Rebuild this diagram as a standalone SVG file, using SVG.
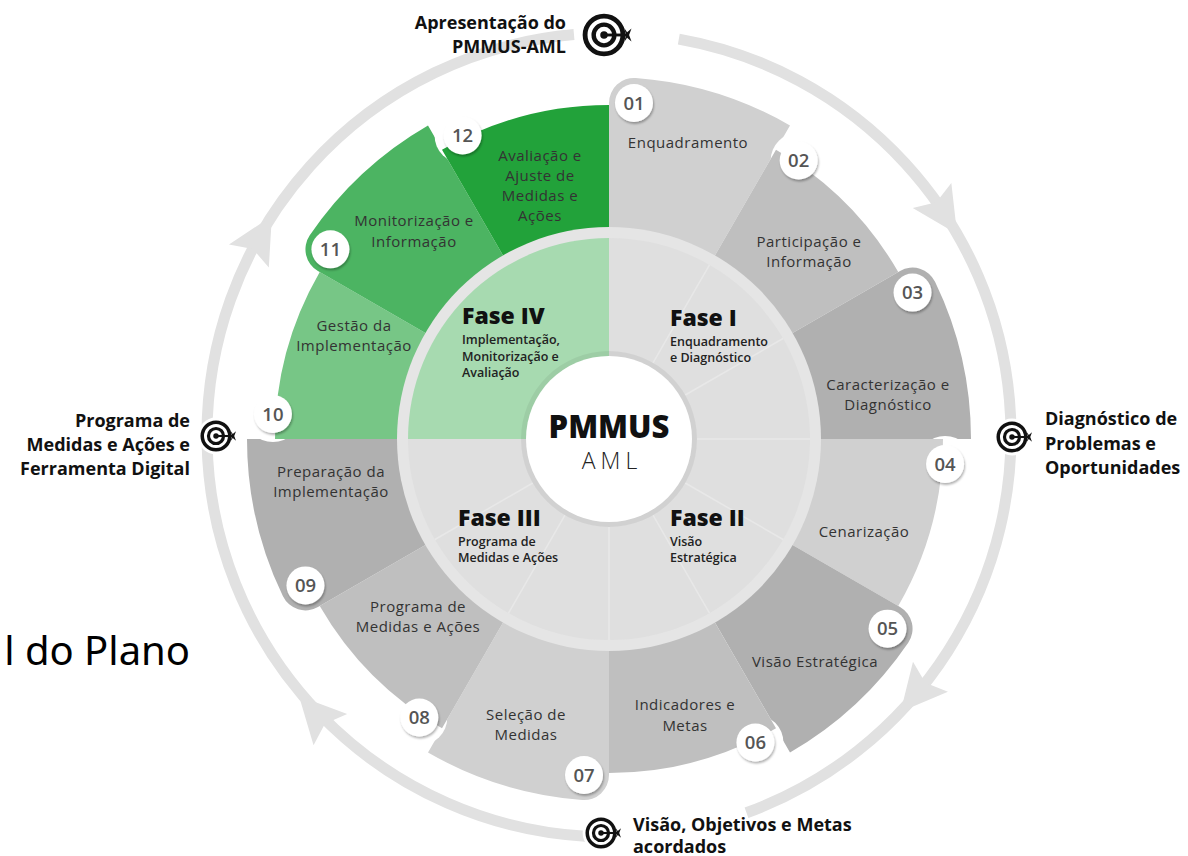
<svg xmlns="http://www.w3.org/2000/svg" width="1188" height="856" viewBox="0 0 1188 856">
<defs>
<style>
.lbl{font-family:'Open Sans','Liberation Sans',sans-serif;font-size:15px;letter-spacing:0.5px;fill:#333;text-anchor:middle}
.num{font-family:'Open Sans','Liberation Sans',sans-serif;font-size:18.5px;font-weight:600;fill:#555;text-anchor:middle}
.badge{fill:#fff;filter:url(#sh)}
.halo{fill:#fff}
.ph{font-family:'Open Sans','Liberation Sans',sans-serif;font-size:23px;font-weight:800;fill:#111}
.phs{font-family:'Open Sans','Liberation Sans',sans-serif;font-size:12.5px;font-weight:600;fill:#222}
.out{font-family:'Open Sans','Liberation Sans',sans-serif;font-size:18px;font-weight:700;fill:#111}
.ring{fill:none;stroke:#e1e1e1;stroke-width:11}
.arw{fill:#e1e1e1}
.c1{fill:#d0d0d0}.c2{fill:#bfbfbf}.c3{fill:#b0b0b0}
.g1{fill:#77c686}.g2{fill:#4cb462}.g3{fill:#22a23a}
.div{stroke:#e8e8e8;stroke-width:1.5}
.pg{fill:#dfdfdf}
</style>
<filter id="sh" x="-30%" y="-30%" width="160%" height="160%"><feDropShadow dx="1" dy="2" stdDeviation="1" flood-color="#000" flood-opacity="0.3"/></filter>
<g id="tgt">
<circle r="1.15" fill="#fff"/>
<circle r="0.86" fill="none" stroke="#111" stroke-width="0.22"/>
<circle r="0.47" fill="none" stroke="#111" stroke-width="0.2"/>
<circle r="0.17" fill="#111"/>
<line x1="0" y1="0" x2="1.05" y2="0" stroke="#111" stroke-width="0.13"/>
<polygon points="0.92,-0.32 1.05,-0.12 1.25,-0.3 1.14,0 1.25,0.3 1.05,0.12 0.92,0.32 1.0,0" fill="#111"/>
</g>
<path id="ah" d="M0,0 L-46,-23 L-38,0 L-46,23 Z"/>
</defs>
<rect width="1188" height="856" fill="#fff"/>

<text x="190" y="665" text-anchor="end" font-family="'Noto Sans','Open Sans',sans-serif" font-size="40" fill="#000">l do Plano</text>

<g id="connectors">
<path class="ring" d="M678.81,39.11 A402,402 0 0 1 746.49,812.76"/>
<path class="ring" d="M587.96,836.45 A402,402 0 0 1 573.96,34.53"/>
<use href="#ah" class="arw" transform="translate(957.1,234) rotate(57)"/>
<use href="#ah" class="arw" transform="translate(900.6,711.7) rotate(130.5)"/>
<use href="#ah" class="arw" transform="translate(299,696) rotate(227)"/>
<use href="#ah" class="arw" transform="translate(271.9,216.1) rotate(300)"/>
</g>

<g id="seg01">
<path class="c1" d="M609,234 L609,102.93 A25,25 0 0 1 635.83,78 A362,362 0 0 1 790,125.5 L711.5,261.46 A205,205 0 0 0 609,234 Z"/>
<circle class="badge" cx="633.97" cy="102.93" r="19"/>
<text class="num" x="633.97" y="109.5">01</text>
<text class="lbl" x="688" y="148">Enquadramento</text>
</g>
<g id="seg02">
<circle class="halo" cx="798.67" cy="160.44" r="28"/>
<path class="c2" d="M711.5,261.46 L776,149.75 A334,334 0 0 1 898.25,272 L786.54,336.5 A205,205 0 0 0 711.5,261.46 Z"/>
<circle class="badge" cx="798.67" cy="160.44" r="19"/>
<text class="num" x="798.67" y="167">02</text>
<text class="lbl" x="809" y="247">Participação e</text>
<text class="lbl" x="809" y="267">Informação</text>
</g>
<g id="seg03">
<path class="c3" d="M786.54,336.5 L900.05,270.96 A25,25 0 0 1 935.05,281.73 A362,362 0 0 1 971,439 L814,439 A205,205 0 0 0 786.54,336.5 Z"/>
<circle class="badge" cx="912.54" cy="292.59" r="19"/>
<text class="num" x="912.54" y="299.2">03</text>
<text class="lbl" x="888" y="390">Caracterização e</text>
<text class="lbl" x="888" y="410">Diagnóstico</text>
</g>
<g id="seg04">
<circle class="halo" cx="945.07" cy="463.97" r="28"/>
<path class="c1" d="M814,439 L943,439 A334,334 0 0 1 898.25,606 L786.54,541.5 A205,205 0 0 0 814,439 Z"/>
<circle class="badge" cx="945.07" cy="463.97" r="19"/>
<text class="num" x="945.07" y="470.5">04</text>
<text class="lbl" x="864" y="537">Cenarização</text>
</g>
<g id="seg05">
<path class="c3" d="M786.54,541.5 L900.05,607.04 A25,25 0 0 1 908.23,642.74 A362,362 0 0 1 790,752.5 L711.5,616.54 A205,205 0 0 0 786.54,541.5 Z"/>
<circle class="badge" cx="887.56" cy="628.67" r="19"/>
<text class="num" x="887.56" y="635.2">05</text>
<text class="lbl" x="815" y="667">Visão Estratégica</text>
</g>
<g id="seg06">
<circle class="halo" cx="755.41" cy="742.54" r="28"/>
<path class="c2" d="M711.5,616.54 L776,728.25 A334,334 0 0 1 609,773 L609,644 A205,205 0 0 0 711.5,616.54 Z"/>
<circle class="badge" cx="755.41" cy="742.54" r="19"/>
<text class="num" x="755.41" y="749.1">06</text>
<text class="lbl" x="685" y="710">Indicadores e</text>
<text class="lbl" x="685" y="731">Metas</text>
</g>
<g id="seg07">
<path class="c1" d="M609,644 L609,775.07 A25,25 0 0 1 582.17,800 A362,362 0 0 1 428,752.5 L506.5,616.54 A205,205 0 0 0 609,644 Z"/>
<circle class="badge" cx="584.03" cy="775.07" r="19"/>
<text class="num" x="584.03" y="781.6">07</text>
<text class="lbl" x="526" y="720">Seleção de</text>
<text class="lbl" x="526" y="740">Medidas</text>
</g>
<g id="seg08">
<circle class="halo" cx="419.33" cy="717.56" r="28"/>
<path class="c2" d="M506.5,616.54 L442,728.25 A334,334 0 0 1 319.75,606 L431.46,541.5 A205,205 0 0 0 506.5,616.54 Z"/>
<circle class="badge" cx="419.33" cy="717.56" r="19"/>
<text class="num" x="419.33" y="724.1">08</text>
<text class="lbl" x="418" y="612">Programa de</text>
<text class="lbl" x="418" y="632">Medidas e Ações</text>
</g>
<g id="seg09">
<path class="c3" d="M431.46,541.5 L317.95,607.04 A25,25 0 0 1 282.95,596.27 A362,362 0 0 1 247,439 L404,439 A205,205 0 0 0 431.46,541.5 Z"/>
<circle class="badge" cx="305.46" cy="585.41" r="19"/>
<text class="num" x="305.46" y="592">09</text>
<text class="lbl" x="331" y="477">Preparação da</text>
<text class="lbl" x="331" y="497">Implementação</text>
</g>
<g id="seg10">
<circle class="halo" cx="272.93" cy="414.03" r="28"/>
<path class="g1" d="M404,439 L275,439 A334,334 0 0 1 319.75,272 L431.46,336.5 A205,205 0 0 0 404,439 Z"/>
<circle class="badge" cx="272.93" cy="414.03" r="19"/>
<text class="num" x="272.93" y="420.6">10</text>
<text class="lbl" x="354" y="331">Gestão da</text>
<text class="lbl" x="354" y="351">Implementação</text>
</g>
<g id="seg11">
<path class="g2" d="M431.46,336.5 L317.95,270.96 A25,25 0 0 1 309.77,235.26 A362,362 0 0 1 428,125.5 L506.5,261.46 A205,205 0 0 0 431.46,336.5 Z"/>
<circle class="badge" cx="330.44" cy="249.33" r="19"/>
<text class="num" x="330.44" y="255.9">11</text>
<text class="lbl" x="414" y="226">Monitorização e</text>
<text class="lbl" x="414" y="247">Informação</text>
</g>
<g id="seg12">
<circle class="halo" cx="462.59" cy="135.46" r="28"/>
<path class="g3" d="M506.5,261.46 L442,149.75 A334,334 0 0 1 609,105 L609,234 A205,205 0 0 0 506.5,261.46 Z"/>
<circle class="badge" cx="462.59" cy="135.46" r="19"/>
<text class="num" x="462.59" y="142">12</text>
<text class="lbl" x="540" y="161">Avaliação e</text>
<text class="lbl" x="540" y="181">Ajuste de</text>
<text class="lbl" x="540" y="201">Medidas e</text>
<text class="lbl" x="540" y="221">Ações</text>
</g>

<g id="phase-ring">
<circle cx="609" cy="439" r="212" fill="#e5e5e5"/>
</g>
<g id="fase1">
<path class="pg" d="M609,439 L609,238 A201,201 0 0 1 810,439 Z"/>
<line class="div" x1="653" y1="362.79" x2="709.5" y2="264.93"/>
<line class="div" x1="685.21" y1="395" x2="783.07" y2="338.5"/>
<text class="ph" x="670" y="326">Fase I</text>
<text class="phs" x="670" y="346">Enquadramento</text>
<text class="phs" x="670" y="362">e Diagnóstico</text>
</g>
<g id="fase2">
<path class="pg" d="M609,439 L810,439 A201,201 0 0 1 609,640 Z"/>
<line class="div" x1="697" y1="439" x2="810" y2="439"/>
<line class="div" x1="685.21" y1="483" x2="783.07" y2="539.5"/>
<line class="div" x1="653" y1="515.21" x2="709.5" y2="613.07"/>
<text class="ph" x="670" y="526">Fase II</text>
<text class="phs" x="670" y="546">Visão</text>
<text class="phs" x="670" y="562">Estratégica</text>
</g>
<g id="fase3">
<path class="pg" d="M609,439 L609,640 A201,201 0 0 1 408,439 Z"/>
<line class="div" x1="609" y1="527" x2="609" y2="640"/>
<line class="div" x1="565" y1="515.21" x2="508.5" y2="613.07"/>
<line class="div" x1="532.79" y1="483" x2="434.93" y2="539.5"/>
<text class="ph" x="458" y="526">Fase III</text>
<text class="phs" x="458" y="546">Programa de</text>
<text class="phs" x="458" y="562">Medidas e Ações</text>
</g>
<g id="fase4">
<path d="M609,439 L408,439 A201,201 0 0 1 609,238 Z" fill="#a7dab0"/>
<text class="ph" x="462" y="324">Fase IV</text>
<text class="phs" x="462" y="344">Implementação,</text>
<text class="phs" x="462" y="360.5">Monitorização e</text>
<text class="phs" x="462" y="377">Avaliação</text>
</g>
<g id="center">
<circle cx="609" cy="439" r="88" fill="#000" fill-opacity="0.06"/>
<circle cx="609" cy="439" r="83" fill="#fff"/>
<text x="609" y="438" text-anchor="middle" font-family="'Open Sans','Liberation Sans',sans-serif" font-size="31" font-weight="800" fill="#111">PMMUS</text>
<text x="612" y="469" text-anchor="middle" font-family="'Open Sans','Liberation Sans',sans-serif" font-size="23" font-weight="300" letter-spacing="5" fill="#222">AML</text>
</g>

<g id="milestone-top">
<g transform="translate(604,35) scale(22)"><use href="#tgt"/></g>
<text class="out" x="566" y="29" text-anchor="end">Apresentação do</text>
<text class="out" x="566" y="53" text-anchor="end">PMMUS-AML</text>
</g>
<g id="milestone-right">
<g transform="translate(1012,437) scale(16)"><use href="#tgt"/></g>
<text class="out" x="1045" y="425">Diagnóstico de</text>
<text class="out" x="1045" y="450">Problemas e</text>
<text class="out" x="1045" y="474">Oportunidades</text>
</g>
<g id="milestone-bottom">
<g transform="translate(601,833) scale(16)"><use href="#tgt"/></g>
<text class="out" x="633" y="831">Visão, Objetivos e Metas</text>
<text class="out" x="633" y="853">acordados</text>
</g>
<g id="milestone-left">
<g transform="translate(216,436) scale(16)"><use href="#tgt"/></g>
<text class="out" x="190" y="427" text-anchor="end">Programa de</text>
<text class="out" x="190" y="451" text-anchor="end">Medidas e Ações e</text>
<text class="out" x="190" y="475" text-anchor="end">Ferramenta Digital</text>
</g>
</svg>
